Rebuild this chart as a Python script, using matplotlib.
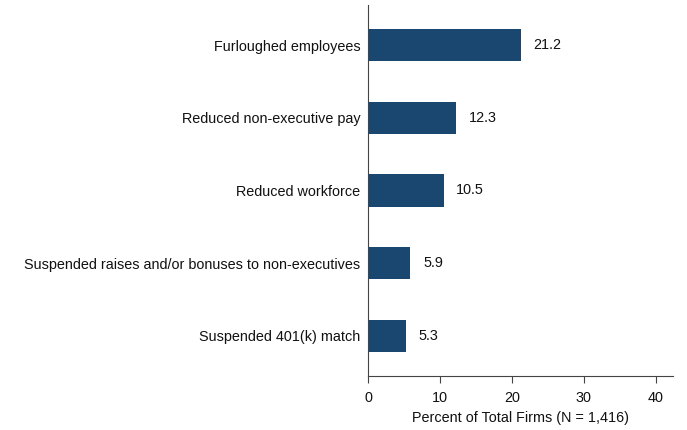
import matplotlib
matplotlib.use("Agg")
import matplotlib.pyplot as plt

categories = ["Furloughed employees", "Reduced non-executive pay", "Reduced workforce",
              "Suspended raises and/or bonuses to non-executives", "Suspended 401(k) match"]
values = [21.2, 12.3, 10.5, 5.9, 5.3]
xticks = [0, 10, 20, 30, 40]

plt.rcParams['font.family'] = ['Liberation Sans', 'DejaVu Sans']

fig = plt.figure(figsize=(6.87, 4.30), dpi=100)
ax = fig.add_axes([368/687, 1-376/430, (673-368)/687, (376-5)/430])

fs = 10.4
color = "#1a476f"
ypos = list(range(len(categories)))
ax.barh(ypos, values, height=0.44, color=color)
for y, v in zip(ypos, values):
    ax.text(v + 1.75, y, f"{v:.1f}", va="center", ha="left", fontsize=fs, color="#111111")

ax.set_ylim(4.55, -0.55)
ax.set_xlim(0, 42.4)
ax.set_yticks(ypos)
ax.set_yticklabels(categories, fontsize=fs, color="#111111")
ax.set_xticks(xticks)
ax.set_xticklabels([str(t) for t in xticks], fontsize=fs, color="#111111")
ax.tick_params(axis='y', length=0, pad=5.5)
ax.tick_params(axis='x', length=5, width=0.8, color="#444444", pad=6)
ax.spines['top'].set_visible(False)
ax.spines['right'].set_visible(False)
for s in ['left', 'bottom']:
    ax.spines[s].set_color("#444444")
    ax.spines[s].set_linewidth(0.8)
ax.set_xlabel("Percent of Total Firms (N = 1,416)", fontsize=fs, color="#111111", labelpad=4)

fig.savefig("out.png", dpi=100)
